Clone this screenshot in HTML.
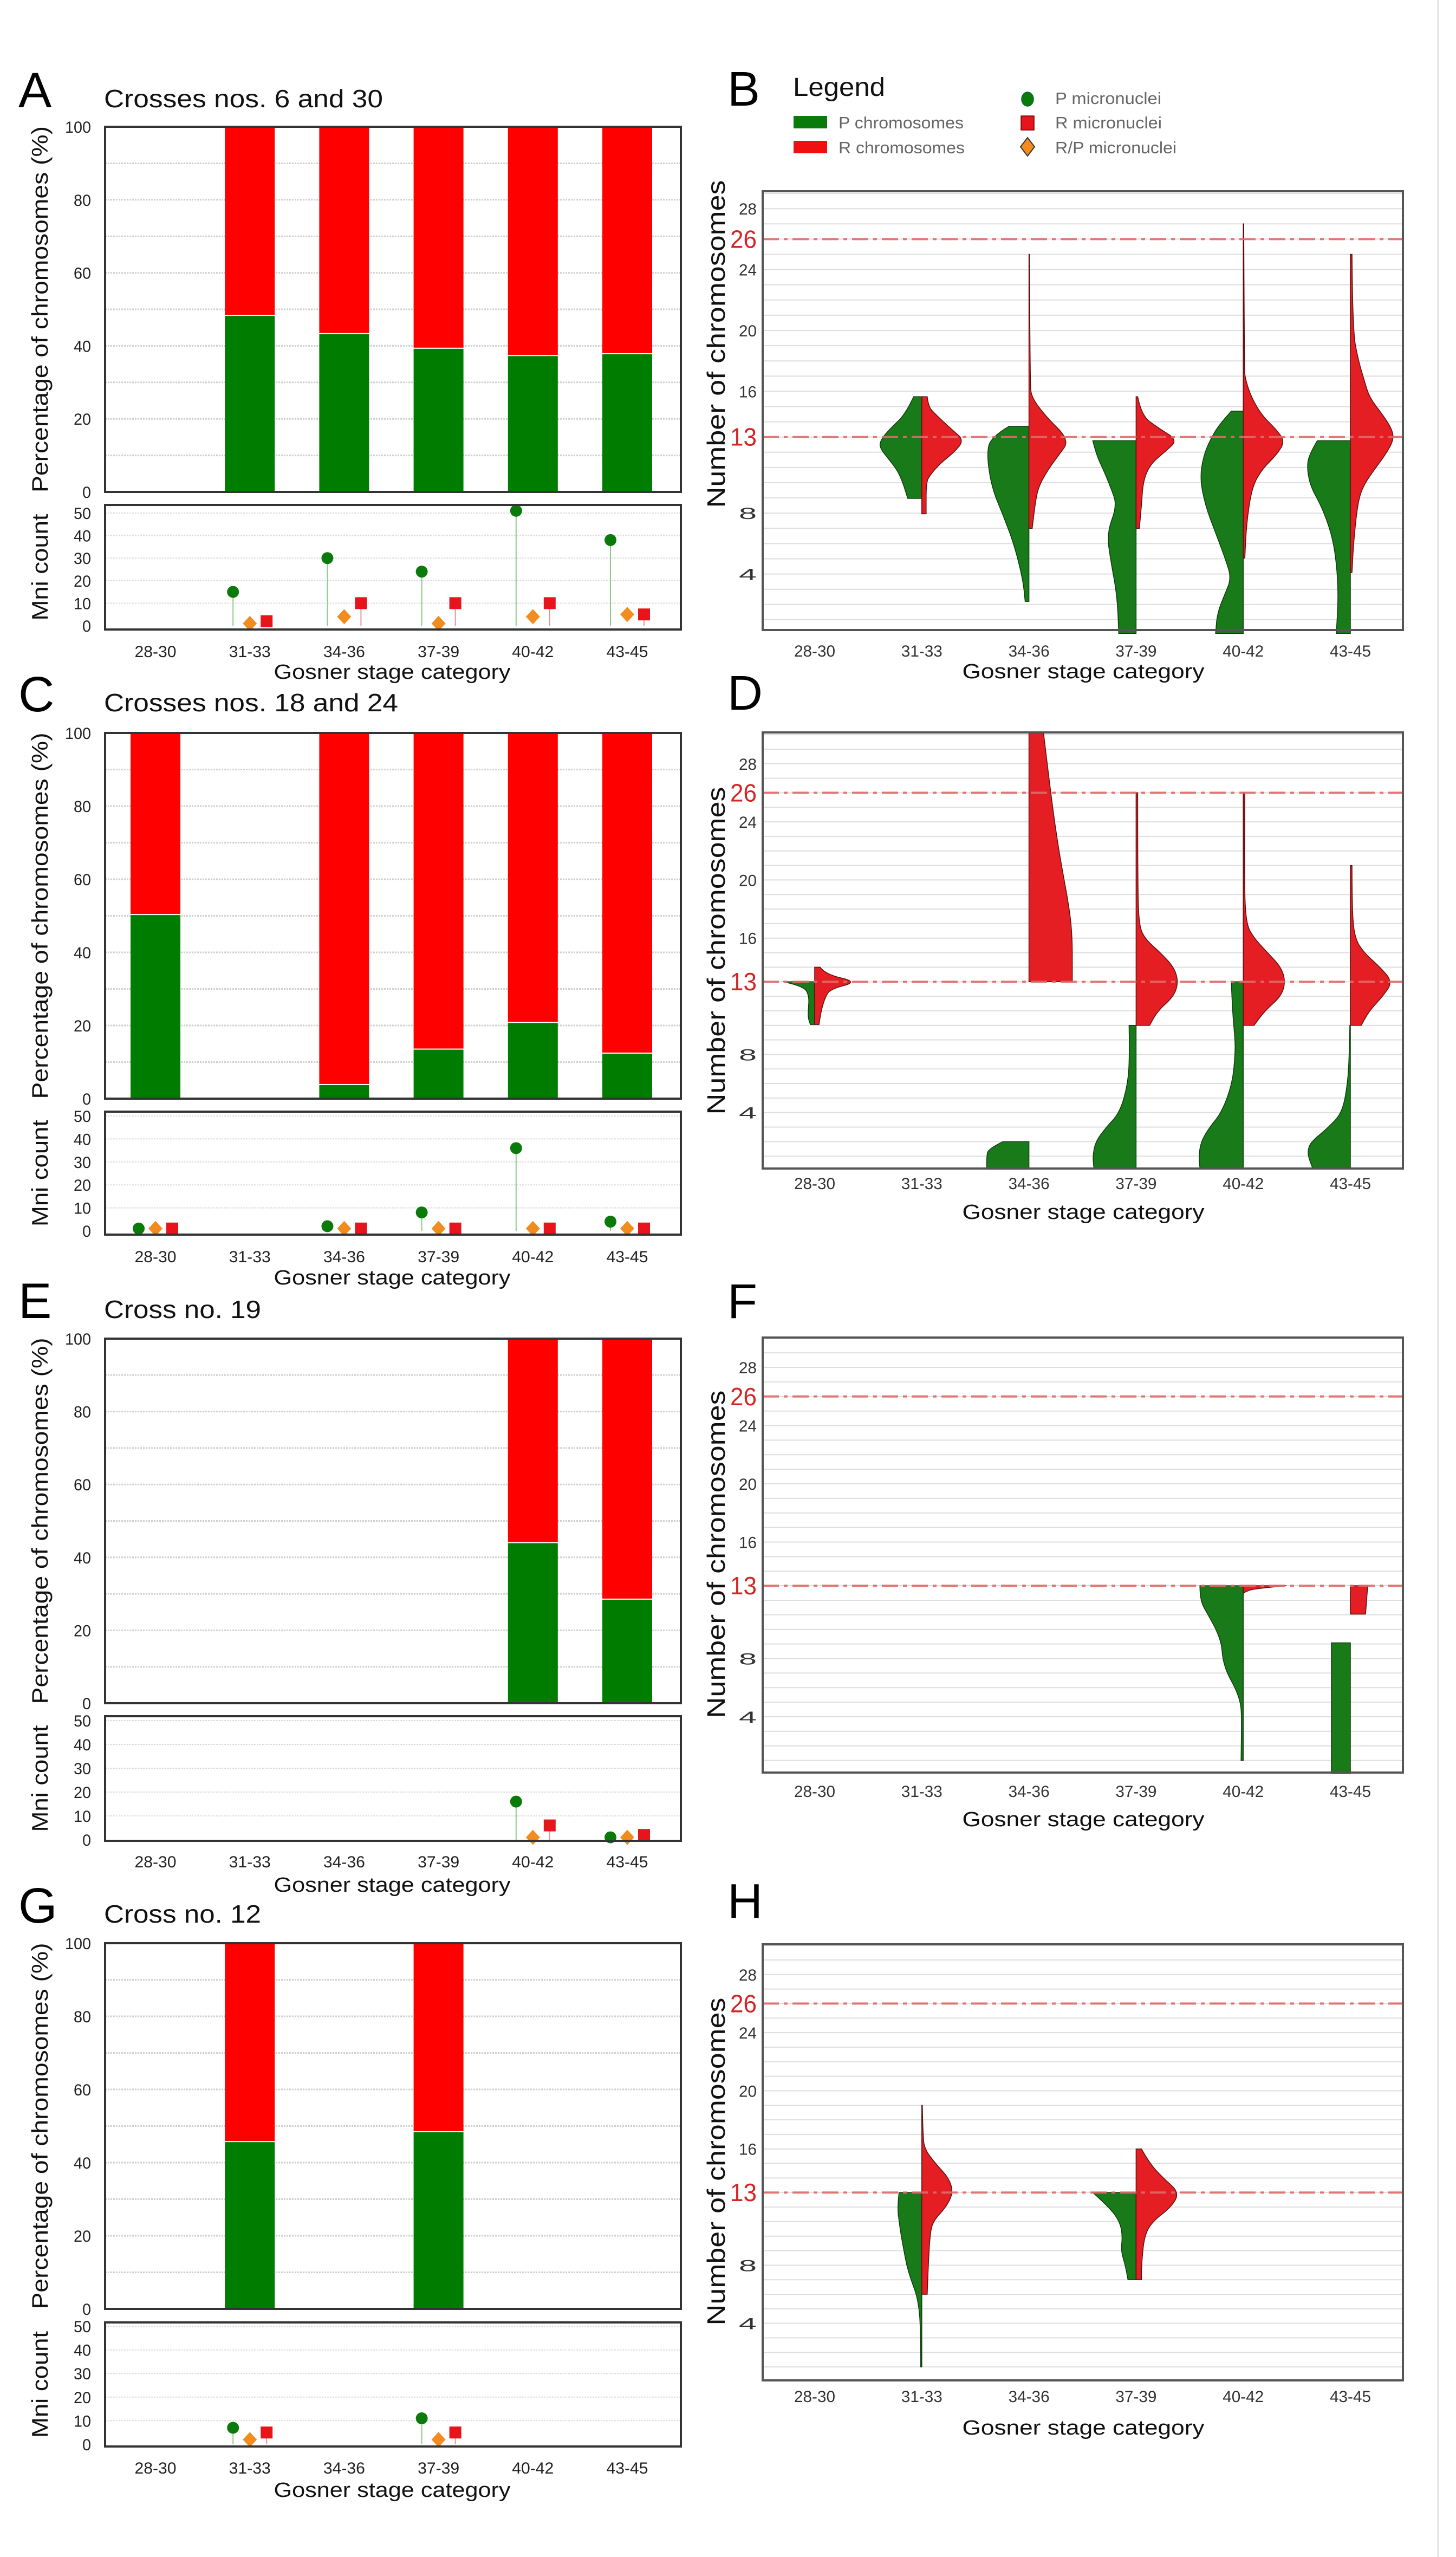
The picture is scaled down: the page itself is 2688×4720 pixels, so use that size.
<!DOCTYPE html>
<html><head><meta charset="utf-8"><title>Chromosome composition by Gosner stage</title>
<style>
html,body{margin:0;padding:0;background:#fff;}
svg{display:block;font-family:"Liberation Sans",Arial,sans-serif;}
</style></head>
<body>
<svg id="fig" width="2688" height="4720" viewBox="0 0 2688 4720" xmlns="http://www.w3.org/2000/svg">
<rect x="0" y="0" width="2688" height="4720" fill="#fff"/>
<line x1="2655" y1="0" x2="2655" y2="4720" stroke="#e2e2e2" stroke-width="3"/>
</svg>
<script>
// ---------- DATA ----------
const categories = ['28-30','31-33','34-36','37-39','40-42','43-45'];
const pctTicks = [0,20,40,60,80,100];
const mniTicks = [0,10,20,30,40,50];
const chromTicks = [4,8,16,20,24,28];
const refLines = [13,26];

// Percentage of P chromosomes (R = 100 - P), null = no data
const pctP_A = [null,48.5,43.5,39.5,37.5,38];
const pctP_C = [50.5,null,4,13.7,21,12.6];
const pctP_E = [null,null,null,null,44.2,28.7];
const pctP_G = [null,45.9,null,48.6,null,null];

// Micronuclei counts
const mniP_A = [null,15,30,24,51,38];
const mniRP_A = [null,1,4,1,4,5];
const mniR_A = [null,2,10,10,10,5];
const mniP_C = [1,null,2,8,36,4];
const mniRP_C = [1,null,1,1,1,1];
const mniR_C = [1,null,1,1,1,1];
const mniP_E = [null,null,null,null,16,1];
const mniRP_E = [null,null,null,null,1,1];
const mniR_E = [null,null,null,null,6,2];
const mniP_G = [null,7,null,11,null,null];
const mniRP_G = [null,2,null,2,null,null];
const mniR_G = [null,5,null,5,null,null];

// Violin profiles: [chromosome number, density] (top to bottom)
const violinP_B = [null,
 [[15.65,15],[14.5,30],[13.5,60],[12.8,76],[12.3,78],[11.5,60],[10.8,45],[10,35],[8.97,26]],
 [[13.7,37],[13,70],[11.9,78],[9.7,69],[7.8,47],[5.9,27],[3.6,11],[2.2,7]],
 [[12.76,80],[11.8,73],[10.9,61],[9.7,47],[8.5,35],[6.7,54],[4.9,47],[2.6,35],[0.1,32]],
 [[14.7,22],[13.8,45],[12.8,61],[11.8,73],[10.3,80],[8.5,70],[6.7,51],[4.9,32],[3.7,22],[2.6,35],[1.4,48],[0.1,51]],
 [[12.76,61],[11.8,77],[10.9,80],[9.7,73],[8.5,54],[6.7,35],[4.9,26],[2.6,22],[0.1,26]]];
const violinR_B = [null,
 [[15.65,10],[15,12],[14.5,25],[13.5,55],[12.8,78],[12,60],[11.3,35],[10.5,15],[10,8],[7.96,8]],
 [[25,1],[16.5,2],[15.6,5],[14.4,30],[12.8,75],[11.8,55],[10.9,36],[9.7,17],[8.5,11],[7,6]],
 [[15.65,3],[14.4,10],[13.6,41],[12.8,77],[12.05,54],[11.2,26],[10.1,13],[8.5,10],[7,6]],
 [[27,1],[17.5,2],[16.8,4],[15.6,15],[14.4,35],[13.5,61],[12.7,77],[11.8,61],[10.9,35],[9.7,16],[7.3,6],[5.05,3]],
 [[25,3],[20,4],[18,15],[16.8,25],[15.6,35],[14.4,61],[13.5,77],[12.8,80],[11.8,64],[10.9,45],[9.7,22],[8.5,13],[6.1,6],[4.1,3]]];
const violinP_D = [
 [[13,58],[12.7,20],[12,10],[11,12],[10.5,12],[10.06,8]],
 null,
 [[2,48],[1.5,75],[1,78],[0.1,78]],
 [[10,13],[8,12],[6,15],[4,30],[3,55],[2,75],[1,80],[0.2,78]],
 [[13,22],[11,20],[9,15],[8,15],[6,20],[4,40],[3,62],[2,78],[1,82],[0.2,80]],
 [[10,1],[8,2],[6,5],[4,15],[3,40],[2,72],[1.5,78],[1,78],[0.2,70]]];
const violinR_D = [
 [[14,10],[13.5,20],[13,80],[12.5,30],[12,20],[11,12],[10.06,8]],
 null,
 [[30.1,27],[26,40],[22,55],[18,75],[16,80],[14,80],[13,80]],
 [[26,3],[20,3],[17,5],[16,15],[15,45],[14,70],[13,78],[12,70],[11,40],[10,25]],
 [[26,3],[20,2],[17,5],[16,20],[15,45],[14,70],[13,78],[12,70],[11,40],[10,20]],
 [[21,3],[18,3],[16,8],[15,25],[14,55],[13,78],[12,60],[11,35],[10,20]]];
const violinP_F = [null,null,null,null,
 [[13,80],[12,80],[11,65],[10,50],[9,40],[8,38],[7,30],[6,15],[5,5],[4,3],[1,4]],
 [[9.08,35],[0.1,35]]];
const violinR_F = [null,null,null,null,
 [[13,80],[12.8,20],[12.6,5],[12.5,1]],
 [[13,32],[12,30],[11.05,28]]];
const violinP_H = [null,
 [[13,42],[12,45],[11,42],[10,38],[9,33],[8,28],[7,20],[6,10],[5,5],[4,3],[2,2],[1,2]],
 null,
 [[13,80],[12,50],[11,30],[10,25],[9,28],[8,20],[7,15]],
 null,null];
const violinR_H = [null,
 [[19,1],[17,2],[16,5],[15,25],[14,50],[13,58],[12,45],[11,20],[10,15],[8,12],[6,10]],
 null,
 [[16,10],[15,25],[14,50],[13,80],[12,65],[11,30],[10,15],[8,10],[7,10]],
 null,null];

// ---------- DRAWING ----------
const NS='http://www.w3.org/2000/svg';
const svg=document.getElementById('fig');
function mk(tag,attrs,parent){const e=document.createElementNS(NS,tag);for(const k in attrs)e.setAttribute(k,attrs[k]);(parent||svg).appendChild(e);return e;}
function txt(str,attrs,parent){const e=mk('text',attrs,parent);e.textContent=str;return e;}

const LX0=194,LX1=1257;
const lcx=i=>287+174.2*i;
const RX0=1408,RX1=2590;
const rcx=i=>1504+197.8*i;

function leftPanel(cfg){
  const g=mk('g',{});
  
  
  const L=txt(cfg.letter,{x:34,y:cfg.base,'font-size':92,fill:'#000'},g);
  
  
  const T=txt(cfg.title,{x:192,y:cfg.base,'font-size':46,fill:'#111',textLength:cfg.titleLen,lengthAdjust:'spacingAndGlyphs'},g);
  
  
  const py=v=>cfg.bot-(cfg.bot-cfg.top)*v/100;
  const my=v=>cfg.m0-(cfg.m0-cfg.m50)*v/50;
  for(let v=10;v<100;v+=10){
    const gl=mk('line',{x1:LX0,x2:LX1,y1:py(v),y2:py(v),stroke:'#cfcfcf','stroke-width':3,'stroke-dasharray':'3 2'},g);
    
    
  }
  pctTicks.forEach(v=>{
    const t=txt(String(v),{x:168,y:py(v)+11,'font-size':30,'text-anchor':'end',fill:'#222',textLength:16*String(v).length,lengthAdjust:'spacingAndGlyphs'},g);
    
    
  });
  cfg.pct.forEach((p,i)=>{
    if(p===null)return;
    const x=lcx(i)-46;
    const rb=mk('rect',{x:x,y:py(100),width:92,height:py(p)-py(100),fill:'#ff0000'},g);
    
    
    const gb=mk('rect',{x:x,y:py(p)+2,width:92,height:py(0)-py(p)-2,fill:'#007d00'},g);
    
    
  });
  const fr=mk('rect',{x:LX0,y:cfg.top,width:LX1-LX0,height:cfg.bot-cfg.top,fill:'none',stroke:'#333','stroke-width':4},g);
  
  
  const yl=txt('Percentage of chromosomes (%)',{x:0,y:0,'font-size':42,'text-anchor':'middle',fill:'#111',textLength:676,lengthAdjust:'spacingAndGlyphs',transform:`translate(88,${(cfg.top+cfg.bot)/2}) rotate(-90)`},g);
  
  
  for(let v=10;v<=50;v+=10){
    const gl=mk('line',{x1:LX0,x2:LX1,y1:my(v),y2:my(v),stroke:'#dcdcdc','stroke-width':2,'stroke-dasharray':'3 2'},g);
    
    
  }
  mniTicks.forEach(v=>{
    const t=txt(String(v),{x:168,y:my(v)+11,'font-size':30,'text-anchor':'end',fill:'#222',textLength:16*String(v).length,lengthAdjust:'spacingAndGlyphs'},g);
    
    
  });
  const ml=txt('Mni count',{x:0,y:0,'font-size':42,'text-anchor':'middle',fill:'#111',textLength:197,lengthAdjust:'spacingAndGlyphs',transform:`translate(88,${(cfg.mtop+cfg.mbot)/2}) rotate(-90)`},g);
  
  
  categories.forEach((c,i)=>{
    if(cfg.mP[i]!==null){
      const cx=lcx(i)-31;
      const st=mk('line',{x1:cx,x2:cx,y1:my(0),y2:my(cfg.mP[i]),stroke:'#8acb8a','stroke-width':2},g);
      
      
      const ci=mk('circle',{cx:cx,cy:my(cfg.mP[i]),r:11,fill:'#0a7a0a'},g);
      
      
    }
    if(cfg.mR[i]!==null){
      const cx=lcx(i)+31;
      const st=mk('line',{x1:cx,x2:cx,y1:my(0),y2:my(cfg.mR[i]),stroke:'#f09090','stroke-width':2},g);
      
      
      const sq=mk('rect',{x:cx-11,y:my(cfg.mR[i])-11,width:22,height:22,fill:'#e8141c'},g);
      
      
    }
    if(cfg.mRP[i]!==null){
      const cx=lcx(i), cy=my(cfg.mRP[i]);
      const dm=mk('polygon',{points:`${cx},${cy-14} ${cx+13},${cy} ${cx},${cy+14} ${cx-13},${cy}`,fill:'#f28c1e'},g);
      
      
    }
    const t=txt(c,{x:lcx(i),y:cfg.tick,'font-size':30,'text-anchor':'middle',fill:'#222',textLength:77,lengthAdjust:'spacingAndGlyphs'},g);
    
    
  });
  const mf=mk('rect',{x:LX0,y:cfg.mtop,width:LX1-LX0,height:cfg.mbot-cfg.mtop,fill:'none',stroke:'#333','stroke-width':4},g);
  
  
  const xt=txt('Gosner stage category',{x:724,y:cfg.gos,'font-size':38,'text-anchor':'middle',fill:'#111',textLength:437,lengthAdjust:'spacingAndGlyphs'},g);
  
  
}

function violinPath(cx,prof,yf,side){
  const pts=prof.map(p=>[cx+side*p[1],yf(p[0])]);
  let d=`M${cx},${pts[0][1]} L${pts[0][0]},${pts[0][1]}`;
  for(let i=1;i<pts.length-1;i++){
    const mx=(pts[i][0]+pts[i+1][0])/2, my=(pts[i][1]+pts[i+1][1])/2;
    d+=` Q${pts[i][0]},${pts[i][1]} ${mx},${my}`;
  }
  const last=pts[pts.length-1];
  d+=` L${last[0]},${last[1]} L${cx},${last[1]} Z`;
  return d;
}

function rightPanel(cfg){
  const g=mk('g',{});
  
  
  const L=txt(cfg.letter,{x:1343,y:cfg.base,'font-size':90,fill:'#000'},g);
  
  
  const yf=v=>cfg.y0-cfg.unit*v;
  for(let v=1;v<=30;v++){
    if(yf(v)<=cfg.top+2)continue;
    const gl=mk('line',{x1:RX0,x2:RX1,y1:yf(v),y2:yf(v),stroke:'#dedede','stroke-width':2},g);
    
    
  }
  chromTicks.forEach(v=>{
    const t=txt(String(v),{x:1397,y:yf(v)+11,'font-size':30,'text-anchor':'end',fill:'#333',textLength:33,lengthAdjust:'spacingAndGlyphs'},g);
    
    
  });
  refLines.forEach(v=>{
    const t=txt(String(v),{x:1397,y:yf(v)+16,'font-size':46,'text-anchor':'end',fill:'#d42424',textLength:49,lengthAdjust:'spacingAndGlyphs'},g);
    
    
  });
  categories.forEach((c,i)=>{
    const cx=rcx(i);
    if(cfg.vP[i]){
      const p=mk('path',{d:violinPath(cx,cfg.vP[i],yf,-1),fill:'#187a18',stroke:'#0d3d0d','stroke-width':1.5},g);
      
      
    }
    if(cfg.vR[i]){
      const p=mk('path',{d:violinPath(cx,cfg.vR[i],yf,1),fill:'#e41e22',stroke:'#5a1010','stroke-width':1.5},g);
      
      
    }
    const t=txt(c,{x:cx,y:cfg.tick,'font-size':30,'text-anchor':'middle',fill:'#333',textLength:76,lengthAdjust:'spacingAndGlyphs'},g);
    
    
  });
  refLines.forEach(v=>{
    const l=mk('line',{x1:RX0,x2:RX1,y1:yf(v),y2:yf(v),stroke:'#e06a6a','stroke-width':4,'stroke-dasharray':'30 9 7 9','opacity':0.9},g);
    
    
  });
  const fr=mk('rect',{x:RX0,y:cfg.top,width:RX1-RX0,height:cfg.bot-cfg.top,fill:'none',stroke:'#555','stroke-width':4},g);
  
  
  const yl=txt('Number of chromosomes',{x:0,y:0,'font-size':46,'text-anchor':'middle',fill:'#111',textLength:605,lengthAdjust:'spacingAndGlyphs',transform:`translate(1338,${cfg.lblc}) rotate(-90)`},g);
  
  
  const xt=txt('Gosner stage category',{x:2000,y:cfg.gos,'font-size':38,'text-anchor':'middle',fill:'#111',textLength:447,lengthAdjust:'spacingAndGlyphs'},g);
  
  
}

leftPanel({letter:'A',title:'Crosses nos. 6 and 30',titleLen:515,base:198,top:234,bot:908,mtop:932,mbot:1162,m50:947,m0:1155,tick:1213,gos:1253,pct:pctP_A,mP:mniP_A,mRP:mniRP_A,mR:mniR_A});
leftPanel({letter:'C',title:'Crosses nos. 18 and 24',titleLen:543,base:1313,top:1353,bot:2028,mtop:2052,mbot:2279,m50:2060,m0:2272,tick:2330,gos:2371,pct:pctP_C,mP:mniP_C,mRP:mniRP_C,mR:mniR_C});
leftPanel({letter:'E',title:'Cross no. 19',titleLen:290,base:2433,top:2471,bot:3144,mtop:3168,mbot:3398,m50:3176,m0:3396,tick:3447,gos:3492,pct:pctP_E,mP:mniP_E,mRP:mniRP_E,mR:mniR_E});
leftPanel({letter:'G',title:'Cross no. 12',titleLen:290,base:3549,top:3587,bot:4262,mtop:4287,mbot:4516,m50:4294,m0:4512,tick:4566,gos:4609,pct:pctP_G,mP:mniP_G,mRP:mniRP_G,mR:mniR_G});

rightPanel({letter:'B',base:195,top:353,bot:1163,y0:1172,unit:28.1,tick:1212,gos:1252,lblc:635,vP:violinP_B,vR:violinR_B});
rightPanel({letter:'D',base:1310,top:1352,bot:2157,y0:2161,unit:26.83,tick:2195,gos:2250,lblc:1755,vP:violinP_D,vR:violinR_D});
rightPanel({letter:'F',base:2433,top:2469,bot:3272,y0:3276.5,unit:26.875,tick:3317,gos:3371,lblc:2869,vP:violinP_F,vR:violinR_F});
rightPanel({letter:'H',base:3540,top:3589,bot:4394,y0:4396,unit:26.83,tick:4434,gos:4494,lblc:3990,vP:violinP_H,vR:violinR_H});

// ---------- LEGEND (panel B) ----------
const lg=mk('g',{});


const lt=txt('Legend',{x:1464,y:177,'font-size':48,fill:'#111',textLength:170,lengthAdjust:'spacingAndGlyphs'},lg);


const s1=mk('rect',{x:1465,y:214,width:62,height:23,fill:'#0a7a0a'},lg);


const s2=mk('rect',{x:1465,y:260,width:62,height:23,fill:'#f01010'},lg);


const t1=txt('P chromosomes',{x:1548,y:237,'font-size':31,fill:'#666',textLength:231,lengthAdjust:'spacingAndGlyphs'},lg);


const t2=txt('R chromosomes',{x:1548,y:283,'font-size':31,fill:'#666',textLength:233,lengthAdjust:'spacingAndGlyphs'},lg);


const m1=mk('ellipse',{cx:1897,cy:183,rx:11,ry:13,fill:'#0a7a0a',stroke:'#063',"stroke-width":1.5},lg);


const m2=mk('rect',{x:1885,y:214,width:24,height:26,fill:'#e8141c',stroke:'#600','stroke-width':1.5},lg);


const m3=mk('polygon',{points:'1897,254 1910,271 1897,288 1884,271',fill:'#f28c1e',stroke:'#333','stroke-width':2},lg);


const t3=txt('P micronuclei',{x:1948,y:192,'font-size':31,fill:'#666',textLength:196,lengthAdjust:'spacingAndGlyphs'},lg);


const t4=txt('R micronuclei',{x:1948,y:237,'font-size':31,fill:'#666',textLength:197,lengthAdjust:'spacingAndGlyphs'},lg);


const t5=txt('R/P micronuclei',{x:1948,y:283,'font-size':31,fill:'#666',textLength:224,lengthAdjust:'spacingAndGlyphs'},lg);


</script>
</body></html>
